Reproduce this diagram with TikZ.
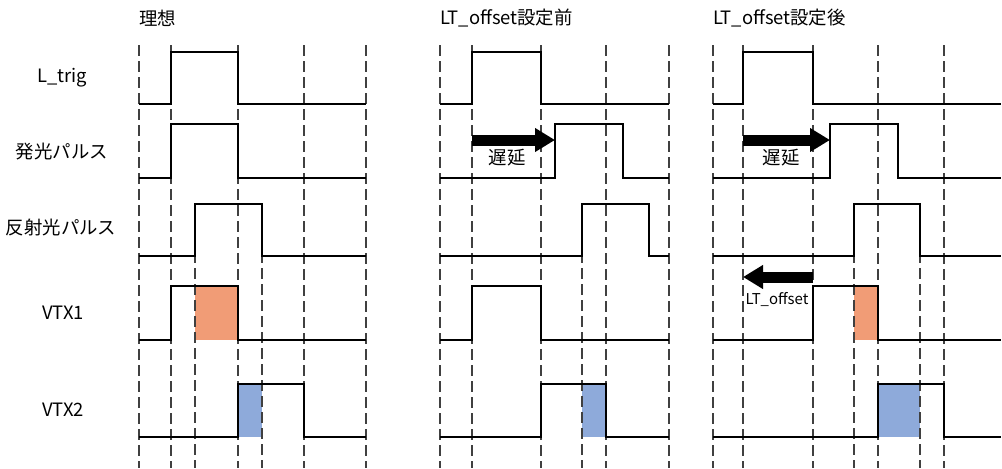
\documentclass[tikz,border=0pt]{standalone}
\usepackage{fontspec}
\setmainfont{Noto Sans CJK JP}
\usepackage{xcolor}
\usetikzlibrary{arrows.meta}

\definecolor{vtxorange}{RGB}{241,156,118}
\definecolor{vtxblue}{RGB}{142,170,218}

\begin{document}
\begin{tikzpicture}[x=0.75pt,y=-0.75pt]

% Define styles
\tikzstyle{signal} = [line width=1.2pt, black]
\tikzstyle{guide} = [line width=1pt, black!75, dash pattern=on 8pt off 4pt]
\tikzstyle{rowtext} = [font=\fontsize{13.8}{16}\selectfont, inner sep=0pt]
\tikzstyle{smalltext} = [font=\fontsize{11.2}{13}\selectfont, inner sep=0pt]
\tikzstyle{bigarrow} = [line width=8.25pt, -{Triangle[length=15pt,width=17pt]}]

\useasboundingbox (0,0) rectangle (1002,468);

% Titles
\node (ideal) [rowtext, anchor=west] at (139,18) {理想};
\node (before) [rowtext, anchor=west] at (440,18) {LT\_offset設定前};
\node (after) [rowtext, anchor=west] at (713,18) {LT\_offset設定後};

% Row names
\node (ltrig) [rowtext] at (62,78) {L\_trig};
\node (emit) [rowtext] at (62,152) {発光パルス};
\node (reflect) [rowtext] at (61,228) {反射光パルス};
\node (vtx1) [rowtext] at (63,313) {VTX1};
\node (vtx2) [rowtext] at (63,410) {VTX2};

% Shaded windows
\fill[vtxorange] (195,286) rectangle (238,340);
\fill[vtxblue] (238,384) rectangle (262,437);
\fill[vtxblue] (582,384) rectangle (606,437);
\fill[vtxorange] (854,286) rectangle (878,340);
\fill[vtxblue] (878,384) rectangle (920,437);

% Timing guides
\foreach \x in {139,171,238,304,366,440,472,541,606,669,713,743,813,878,944}
  \draw[guide] (\x,45) -- (\x,468);
\foreach \x in {195,262,582,854,920}
  \draw[guide] (\x,204) -- (\x,468);

% Ideal
\draw[signal] (139,104) -| (171,52) -| (238,104) -- (366,104);
\draw[signal] (139,178) -| (171,124) -| (238,178) -- (366,178);
\draw[signal] (139,256) -| (195,204) -| (262,256) -- (366,256);
\draw[signal] (139,340) -| (171,286) -| (238,340) -- (366,340);
\draw[signal] (139,437) -| (238,384) -| (304,437) -- (366,437);

% Before LT_offset
\draw[signal] (440,104) -| (472,52) -| (541,104) -- (669,104);
\draw[signal] (440,178) -| (555,124) -| (623,178) -- (669,178);
\draw[signal] (440,256) -| (582,204) -| (649,256) -- (669,256);
\draw[signal] (440,340) -| (472,286) -| (541,340) -- (669,340);
\draw[signal] (440,437) -| (541,384) -| (606,437) -- (669,437);

% After LT_offset
\draw[signal] (713,104) -| (743,52) -| (813,104) -- (1001,104);
\draw[signal] (713,178) -| (830,124) -| (898,178) -- (1001,178);
\draw[signal] (713,256) -| (854,204) -| (920,256) -- (1001,256);
\draw[signal] (713,340) -| (813,286) -| (878,340) -- (1001,340);
\draw[signal] (713,437) -| (878,384) -| (944,437) -- (1001,437);

% Delay and offset arrows
\coordinate (delayAstart) at (472,140);
\coordinate (delayAend) at (555,140);
\coordinate (delayBstart) at (743,140);
\coordinate (delayBend) at (830,140);
\coordinate (offsetstart) at (813,277);
\coordinate (offsetend) at (743,277);
\draw[bigarrow] (delayAstart) -- (delayAend);
\draw[bigarrow] (delayBstart) -- (delayBend);
\draw[bigarrow] (offsetstart) -- (offsetend);

\node (delayA) [rowtext] at (507,158) {遅延};
\node (delayB) [rowtext] at (781,158) {遅延};
\node (offset) [smalltext] at (777,299) {LT\_offset};

\end{tikzpicture}
\end{document}
